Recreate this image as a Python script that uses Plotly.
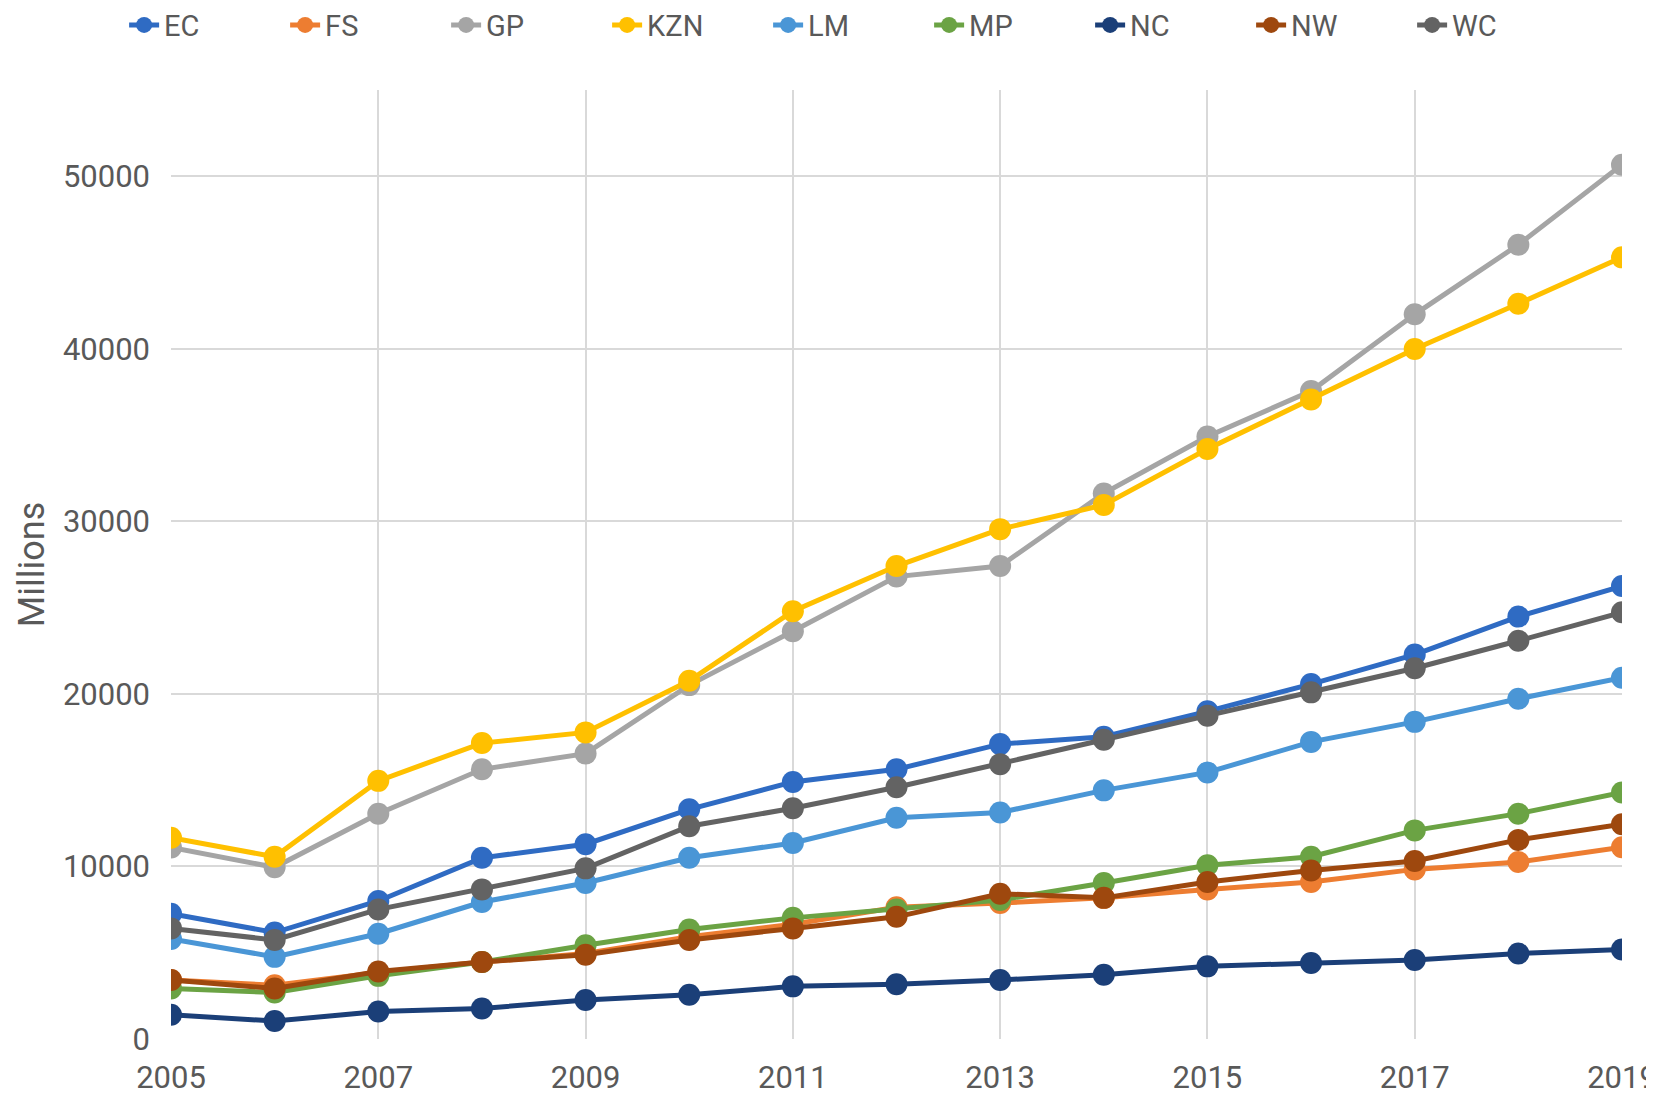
import plotly.graph_objects as go

years = list(range(2005, 2020))

EC = [7260, 6170, 8000, 10500, 11290, 13310, 14900, 15630, 17090, 17520, 18990, 20570, 22280, 24480, 26250]
FS = [3420, 3110, 3850, 4460, 4950, 5920, 6650, 7630, 7880, 8180, 8670, 9100, 9830, 10260, 11110]
GP = [11100, 9950, 13060, 15630, 16540, 20510, 23630, 26800, 27410, 31620, 34920, 37550, 42000, 46030, 50670]
KZN = [11660, 10560, 14960, 17150, 17770, 20760, 24790, 27410, 29550, 30950, 34190, 37060, 39990, 42610, 45300]
LM = [5800, 4760, 6100, 7940, 9040, 10500, 11360, 12820, 13130, 14410, 15450, 17220, 18380, 19720, 20940]
MP = [2930, 2690, 3660, 4460, 5430, 6350, 7020, 7510, 8060, 9040, 10070, 10560, 12090, 13060, 14290]
NC = [1400, 1040, 1590, 1770, 2260, 2560, 3050, 3170, 3420, 3720, 4210, 4400, 4580, 4950, 5190]
NW = [3420, 2930, 3910, 4460, 4880, 5740, 6410, 7080, 8420, 8180, 9100, 9770, 10320, 11540, 12450]
WC = [6410, 5740, 7510, 8670, 9890, 12330, 13370, 14590, 15930, 17340, 18740, 20090, 21490, 23080, 24730]

series = [
    ("EC", EC, "#2F6BC3"),
    ("FS", FS, "#ED7D31"),
    ("GP", GP, "#A5A5A5"),
    ("KZN", KZN, "#FFC000"),
    ("LM", LM, "#4A96D6"),
    ("MP", MP, "#6BA344"),
    ("NC", NC, "#1B3F78"),
    ("NW", NW, "#9E480E"),
    ("WC", WC, "#636363"),
]

font = "Roboto, sans-serif"
text_col = "#595959"
grid_col = "#D9D9D9"

fig = go.Figure()
for name, vals, col in series:
    fig.add_trace(go.Scatter(
        x=years, y=vals, name=name, mode="lines+markers",
        line=dict(color=col, width=5),
        marker=dict(color=col, size=22),
    ))

# y title as annotation so it can sit right at the left edge
fig.add_annotation(
    text="Millions", textangle=-90, showarrow=False,
    xref="paper", yref="paper", x=-0.096, y=0.5,
    xanchor="center", yanchor="middle",
    font=dict(size=36, color=text_col),
)

fig.update_layout(
    width=1654, height=1096,
    margin=dict(l=163, r=40, t=82, b=65, autoexpand=False),
    paper_bgcolor="white", plot_bgcolor="white",
    font=dict(family=font, size=31, color=text_col),
    legend=dict(
        orientation="h", x=0.467, xanchor="center", xref="paper",
        y=1.0953, yanchor="top", yref="paper",
        font=dict(size=29, color=text_col),
        entrywidth=116, entrywidthmode="pixels",
        itemwidth=30, tracegroupgap=0,
    ),
    xaxis=dict(
        range=[2005, 2019], tickvals=list(range(2005, 2020, 2)),
        showgrid=True, gridcolor=grid_col, gridwidth=2,
        zeroline=False, showline=False, ticks="",
        ticklabelstandoff=17, automargin=False,
    ),
    yaxis=dict(
        range=[0, 55000], tickvals=[0, 10000, 20000, 30000, 40000, 50000],
        tickformat="d",
        showgrid=True, gridcolor=grid_col, gridwidth=2,
        zeroline=False, showline=False, ticks="",
        ticklabelstandoff=20, automargin=False,
    ),
)

fig.write_html("out.html")
